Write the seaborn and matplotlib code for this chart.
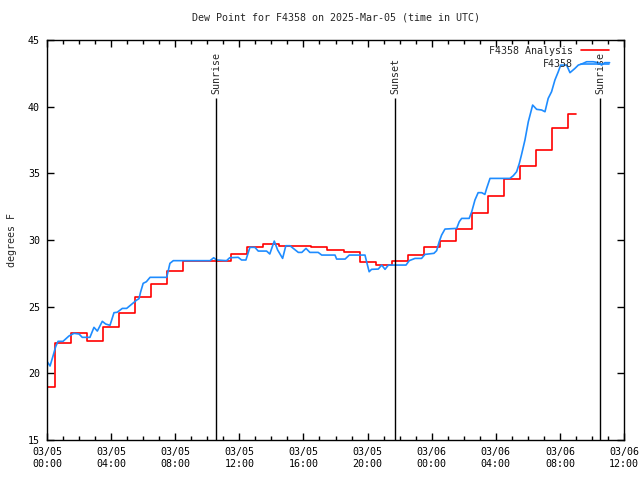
import numpy as np
import pandas as pd
import matplotlib
matplotlib.use("Agg")
import matplotlib.pyplot as plt
import matplotlib.dates as mdates
import seaborn as sns

# dew point data, hours after 2025-03-05 00:00 UTC
obs_hours = [0.0, 0.19, 0.4, 0.54, 0.69, 1.0, 1.37, 1.68, 2.0, 2.2, 2.68, 2.93, 3.14, 3.45,
             3.66, 3.93, 4.18, 4.38, 4.7, 4.97, 5.6, 5.74, 5.84, 6.0, 6.2, 6.43, 7.47, 7.67,
             7.88, 10.17, 10.4, 10.58, 11.2, 11.4, 11.93, 12.14, 12.41, 12.66, 12.97, 13.18,
             13.7, 13.9, 14.0, 14.18, 14.39, 14.7, 14.9, 15.16, 15.68, 15.9, 16.16, 16.4,
             16.92, 17.14, 17.97, 18.07, 18.6, 18.86, 19.84, 19.94, 20.1, 20.25, 20.67, 20.88,
             21.09, 21.3, 22.4, 22.6, 22.96, 23.37, 23.58, 24.14, 24.31, 24.47, 24.62, 24.83,
             25.56, 25.72, 25.87, 26.34, 26.5, 26.7, 26.9, 27.12, 27.32, 27.43, 27.64, 28.88,
             29.09, 29.3, 29.47, 29.6, 29.82, 30.03, 30.3, 30.55, 30.86, 31.07, 31.27, 31.48,
             31.69, 31.9, 32.05, 32.42, 32.63, 32.94, 33.15, 33.36, 33.67, 34.08, 34.4, 34.6,
             34.8, 35.1]
obs_dewpt = [20.9, 20.55, 21.4, 22.0, 22.4, 22.4, 22.8, 23.0, 22.95, 22.7, 22.7, 23.45, 23.17, 23.9,
             23.7, 23.6, 24.55, 24.58, 24.87, 24.87, 25.5, 25.6, 26.1, 26.75, 26.87, 27.2, 27.2, 28.25,
             28.45, 28.45, 28.67, 28.5, 28.45, 28.67, 28.7, 28.5, 28.5, 29.45, 29.45, 29.17,
             29.17, 28.95, 29.3, 29.92, 29.25, 28.62, 29.57, 29.57, 29.07, 29.07, 29.37, 29.07,
             29.07, 28.87, 28.87, 28.57, 28.57, 28.87, 28.87, 28.37, 27.62, 27.8, 27.82, 28.12,
             27.8, 28.12, 28.12, 28.45, 28.62, 28.62, 28.92, 29.0, 29.2, 29.87, 30.37, 30.82,
             30.87, 31.37, 31.62, 31.62, 32.12, 33.0, 33.55, 33.55, 33.42, 33.87, 34.62, 34.62,
             34.82, 35.12, 35.75, 36.37, 37.5, 38.87, 40.12, 39.8, 39.75, 39.62, 40.62, 41.12,
             42.0, 42.62, 43.12, 43.12, 42.55, 42.87, 43.12, 43.2, 43.37, 43.37, 43.3, 43.12,
             43.3, 43.3]

ana_hours = list(range(34))
ana_dewpt = [19.0, 22.25, 23.0, 22.4, 23.5, 24.5, 25.7, 26.7, 27.7, 28.4, 28.4, 28.4, 28.95,
             29.45, 29.67, 29.55, 29.55, 29.45, 29.25, 29.08, 28.38, 28.12, 28.42, 28.87,
             29.45, 29.95, 30.8, 32.0, 33.27, 34.55, 35.55, 36.75, 38.37, 39.43]

sun_hours = [10.54, 21.71, 34.5]
sun_labels = ["Sunrise", "Sunset", "Sunrise"]

start = pd.Timestamp("2025-03-05 00:00")
obs = pd.DataFrame({"time": start + pd.to_timedelta(obs_hours, unit="h"), "dewpt": obs_dewpt})
ana = pd.DataFrame({"time": start + pd.to_timedelta(ana_hours, unit="h"), "dewpt": ana_dewpt})

sns.set_style("ticks")
plt.rcParams["font.family"] = ["DejaVu Sans Mono"]
plt.rcParams["font.size"] = 7.2

fig = plt.figure(figsize=(6.4, 4.8), dpi=100)
ax = fig.add_axes([47 / 640, 40 / 480, 577 / 640, 400 / 480])

sns.lineplot(data=ana, x="time", y="dewpt", ax=ax, color="#ff0000", lw=1.2,
             drawstyle="steps-mid", label="F4358 Analysis")
sns.lineplot(data=obs, x="time", y="dewpt", ax=ax, color="#1e8cff", lw=1.2, label="F4358")

for h, lab in zip(sun_hours, sun_labels):
    t = start + pd.Timedelta(hours=h)
    ax.vlines(t, 15, 40.65, color="black", lw=1)
    ax.text(t, 40.95, lab, rotation=90, ha="center", va="bottom", fontsize=7.2)

ax.set_xlim(start, start + pd.Timedelta(hours=36))
ax.set_ylim(15, 45)
ax.set_yticks(np.arange(15, 46, 5))
ax.xaxis.set_major_locator(mdates.HourLocator(byhour=range(0, 24, 4)))
ax.xaxis.set_minor_locator(mdates.HourLocator())
ax.xaxis.set_major_formatter(mdates.DateFormatter("%m/%d\n%H:%M"))
ax.tick_params(which="both", direction="in", top=True, right=True, color="black",
               labelcolor="black", labelsize=7.2)
ax.tick_params(which="major", length=5, width=1, pad=5)
ax.tick_params(which="minor", length=3, width=1)
for s in ax.spines.values():
    s.set_color("black")
    s.set_linewidth(1)

ax.set_xlabel("")
ax.set_ylabel("degrees F", fontsize=7.2, labelpad=8)
ax.set_title("Dew Point for F4358 on 2025-Mar-05 (time in UTC)", fontsize=7.2, pad=14)

ax.legend(loc="upper right", bbox_to_anchor=(0.984, 1.0), frameon=False, markerfirst=False,
          handlelength=2.8, handletextpad=0.8, labelspacing=0.35, borderaxespad=0.2,
          fontsize=7.2)

fig.savefig("out.png", dpi=100)
